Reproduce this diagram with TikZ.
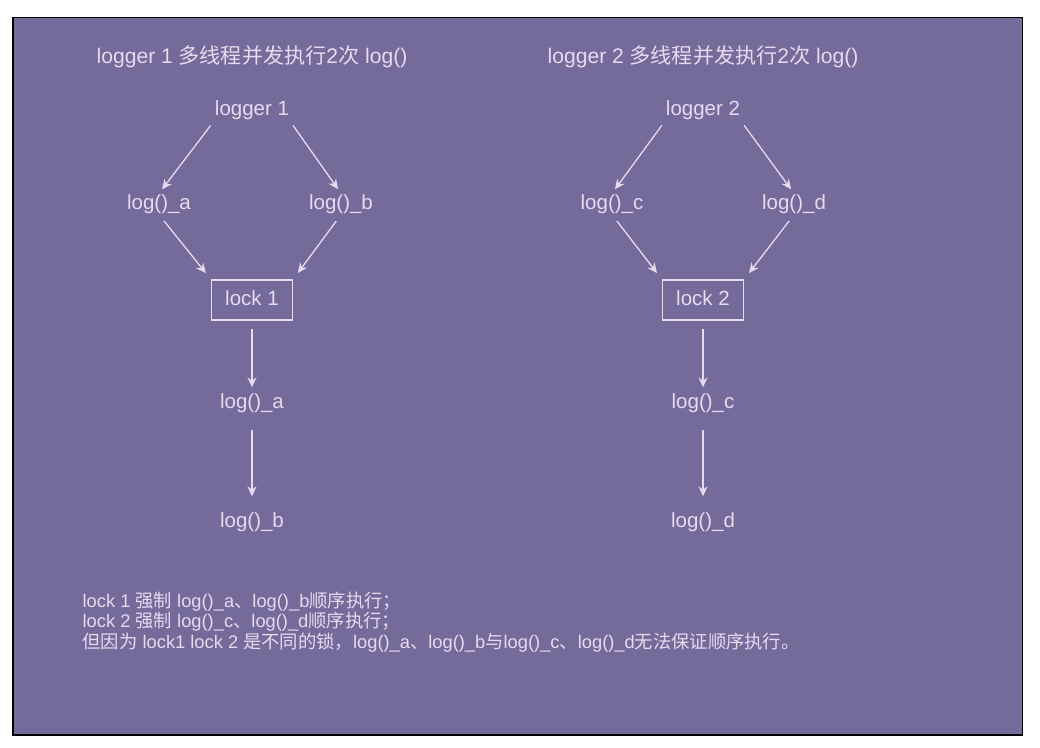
\documentclass[tikz,border=0pt]{standalone}
\usepackage{fontspec}
\setmainfont{Liberation Sans}
\newfontfamily\cjk{Noto Sans CJK SC}
\newcommand{\zh}[1]{{\cjk #1}}
\usetikzlibrary{arrows.meta, positioning}
\definecolor{bgpurple}{RGB}{116,107,154}
\definecolor{lilac}{RGB}{230,218,240}

\begin{document}
\begin{tikzpicture}[x=1pt, y=-1pt, color=lilac, line width=1.3pt,
    >={Stealth[length=10pt, width=9pt]}, shorten >=5pt, shorten <=6pt,
    lbl/.style={inner sep=0pt, text height=15pt, text depth=5pt, font=\fontsize{20.5}{24}\selectfont},
    ttl/.style={lbl, font=\fontsize{21.1}{24}\selectfont},
    lockbox/.style={lbl, draw, line width=1.2pt, minimum width=81pt, minimum height=40pt},
    note/.style={inner sep=0pt, align=left, font=\fontsize{18.3}{19}\selectfont}]

    \useasboundingbox (0,0) rectangle (1040,747);
    \filldraw[fill=bgpurple, draw=black, line width=1.5pt] (13,17.5) rectangle (1022.5,735);

    % logger 1
    \node [ttl] (t1) at (252,58) {logger 1 \zh{多线程并发执行}2\zh{次} log()};
    \node [lbl, minimum width=60pt] (lg1) at (252,110) {logger 1};
    \node [lbl] (la) at (159,204) {log()\_a};
    \node [lbl] (lb) at (341,204) {log()\_b};
    \node [lockbox] (lk1) at (252,300) {lock 1};
    \node [lbl] (oa) at (252,403) {log()\_a};
    \node [lbl] (ob) at (252,522) {log()\_b};

    % logger 2
    \node [ttl] (t2) at (703,58) {logger 2 \zh{多线程并发执行}2\zh{次} log()};
    \node [lbl, minimum width=60pt] (lg2) at (703,110) {logger 2};
    \node [lbl] (lc) at (612,204) {log()\_c};
    \node [lbl] (ld) at (794,204) {log()\_d};
    \node [lockbox] (lk2) at (703,300) {lock 2};
    \node [lbl] (oc) at (703,403) {log()\_c};
    \node [lbl] (od) at (703,522) {log()\_d};

    \node [note, anchor=west] (sum) at (82,622) {lock 1 \zh{强制} log()\_a\zh{、}log()\_b\zh{顺序执行；}\\
        lock 2 \zh{强制} log()\_c\zh{、}log()\_d\zh{顺序执行；}\\
        \zh{但因为} lock1 lock 2 \zh{是不同的锁，}log()\_a\zh{、}log()\_b\zh{与}log()\_c\zh{、}log()\_d\zh{无法保证顺序执行。}};

    \path[->]
        (lg1.south west) edge (la.north)
        (lg1.south east) edge (lb.north)
        (la.south) edge[shorten <=8pt, shorten >=8pt] (lk1.north west)
        (lb.south) edge[shorten <=8pt, shorten >=8pt] (lk1.north east)
        (lk1) edge[shorten <=8pt] (oa)
        (oa) edge[shorten <=16pt, shorten >=15pt] (ob)
        (lg2.south west) edge (lc.north)
        (lg2.south east) edge (ld.north)
        (lc.south) edge[shorten <=8pt, shorten >=8pt] (lk2.north west)
        (ld.south) edge[shorten <=8pt, shorten >=8pt] (lk2.north east)
        (lk2) edge[shorten <=8pt] (oc)
        (oc) edge[shorten <=16pt, shorten >=15pt] (od);
\end{tikzpicture}
\end{document}
